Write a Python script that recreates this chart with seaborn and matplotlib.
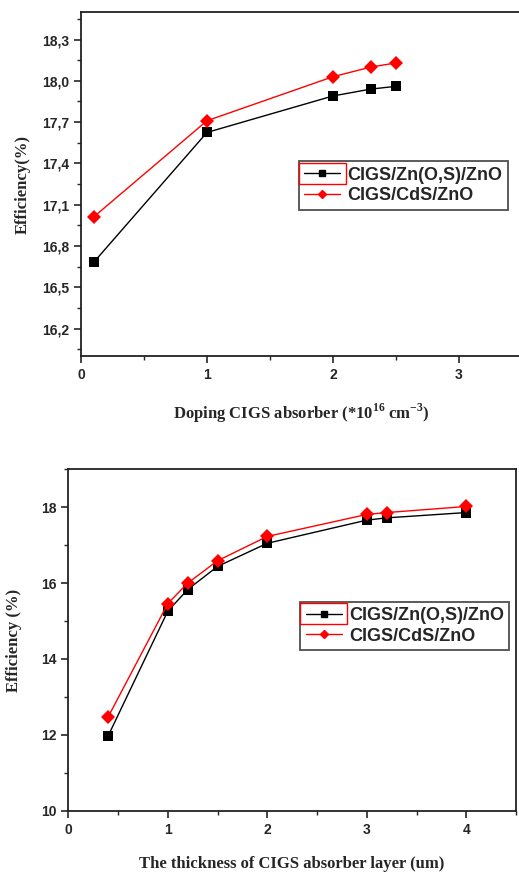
import numpy as np
import pandas as pd
import seaborn as sns
import matplotlib.pyplot as plt
from matplotlib.ticker import MultipleLocator, FuncFormatter
from matplotlib.patches import Rectangle

# data
series = ['CIGS/Zn(O,S)/ZnO', 'CIGS/CdS/ZnO']

doping = [0.1, 1.0, 2.0, 2.3, 2.5]
eff_dop_zno = [16.68, 17.625, 17.89, 17.94, 17.96]
eff_dop_cds = [17.01, 17.71, 18.03, 18.10, 18.13]

thickness = [0.4, 1.0, 1.2, 1.5, 2.0, 3.0, 3.2, 4.0]
eff_thk_zno = [11.97, 15.26, 15.83, 16.44, 17.05, 17.66, 17.72, 17.86]
eff_thk_cds = [12.47, 15.46, 16.00, 16.59, 17.23, 17.81, 17.86, 18.02]

df_dop = pd.DataFrame({
    'x': doping * 2,
    'eff': eff_dop_zno + eff_dop_cds,
    'cell': [series[0]] * len(doping) + [series[1]] * len(doping),
})
df_thk = pd.DataFrame({
    'x': thickness * 2,
    'eff': eff_thk_zno + eff_thk_cds,
    'cell': [series[0]] * len(thickness) + [series[1]] * len(thickness),
})

sns.set_style("ticks")
plt.rcParams['font.family'] = ['Liberation Sans', 'DejaVu Sans']
plt.rcParams['mathtext.fontset'] = 'custom'
plt.rcParams['mathtext.rm'] = 'Liberation Serif:bold'
plt.rcParams['mathtext.bf'] = 'Liberation Serif:bold'

palette = {series[0]: 'black', series[1]: 'red'}
markers = {series[0]: 's', series[1]: 'D'}
serif = ['Liberation Serif', 'DejaVu Serif']

fig = plt.figure(figsize=(5.19, 8.72), dpi=100)
ax1 = fig.add_axes([0.156, 0.5917, 0.8497, 0.3945])
ax2 = fig.add_axes([0.1316, 0.0703, 0.8626, 0.3915])


def draw(ax, df, legx, legy):
    sns.lineplot(data=df, x='x', y='eff', hue='cell', style='cell',
                 palette=palette, markers=markers, dashes=False,
                 markersize=7, markeredgewidth=0, linewidth=1.0,
                 ax=ax, legend=False)
    for s in ax.spines.values():
        s.set_linewidth(1.3)
        s.set_color('#222222')
    ax.tick_params(which='major', direction='out', length=5, width=1.2,
                   labelsize=10, top=False, right=False)
    ax.tick_params(which='minor', direction='out', length=3, width=1.0)
    h = [plt.Line2D([], [], color='black', marker='s', markersize=5, lw=1.0),
         plt.Line2D([], [], color='red', marker='D', markersize=4.5, lw=1.0)]
    leg = ax.legend(h, series, loc='center right', bbox_to_anchor=(legx, legy),
                    frameon=True, fancybox=False, fontsize=13, handlelength=2.0,
                    handletextpad=0.4, borderpad=0.3, labelspacing=0.2,
                    borderaxespad=0.0)
    leg.get_frame().set_edgecolor('#222222')
    leg.get_frame().set_linewidth(1.3)
    for t in leg.get_texts():
        t.set_fontweight('bold')
    return leg


# top panel: doping
leg1 = draw(ax1, df_dop, 0.968, 0.496)
ax1.set_xlim(0, 3.5)
ax1.set_ylim(16.0, 18.5)
ax1.xaxis.set_major_locator(MultipleLocator(1))
ax1.xaxis.set_minor_locator(MultipleLocator(0.5))
ax1.set_yticks(np.arange(16.2, 18.31, 0.3))
ax1.yaxis.set_minor_locator(MultipleLocator(0.15))
ax1.yaxis.set_major_formatter(FuncFormatter(lambda v, p: f"{v:.1f}".replace('.', ',')))
ax1.set_xlabel(r"Doping CIGS absorber (*10$^{16}$ cm$^{-3}$)",
               family=serif, fontweight='bold', fontsize=12, labelpad=14)
ax1.set_ylabel("Efficiency(%)", family=serif, fontweight='bold', fontsize=12,
               labelpad=8)

# bottom panel: thickness
leg2 = draw(ax2, df_thk, 0.985, 0.541)
ax2.set_xlim(0, 4.5)
ax2.set_ylim(10, 19)
ax2.xaxis.set_major_locator(MultipleLocator(1))
ax2.xaxis.set_minor_locator(MultipleLocator(0.5))
ax2.yaxis.set_major_locator(MultipleLocator(2))
ax2.yaxis.set_minor_locator(MultipleLocator(1))
ax2.set_xlabel("The thickness of CIGS absorber layer (um)", family=serif,
               fontweight='bold', fontsize=12, labelpad=14)
ax2.set_ylabel("Efficiency (%)", family=serif, fontweight='bold', fontsize=12,
               labelpad=14)

for ax in (ax1, ax2):
    for lab in ax.get_xticklabels() + ax.get_yticklabels():
        lab.set_fontweight('bold')

# red selection box around the first legend handle, as in the source image
fig.canvas.draw()
renderer = fig.canvas.get_renderer()
inv = fig.transFigure.inverted()
for leg in (leg1, leg2):
    bb = leg.legend_handles[0].get_window_extent(renderer)
    (x0, y0), (x1, y1) = inv.transform([[bb.x0 - 2, bb.y0 - 7], [bb.x1 + 2, bb.y1 + 7]])
    fig.patches.append(Rectangle((x0, y0), x1 - x0, y1 - y0, fill=False,
                                 edgecolor='red', lw=1.0,
                                 transform=fig.transFigure, figure=fig))

fig.savefig("out.png", dpi=100)
